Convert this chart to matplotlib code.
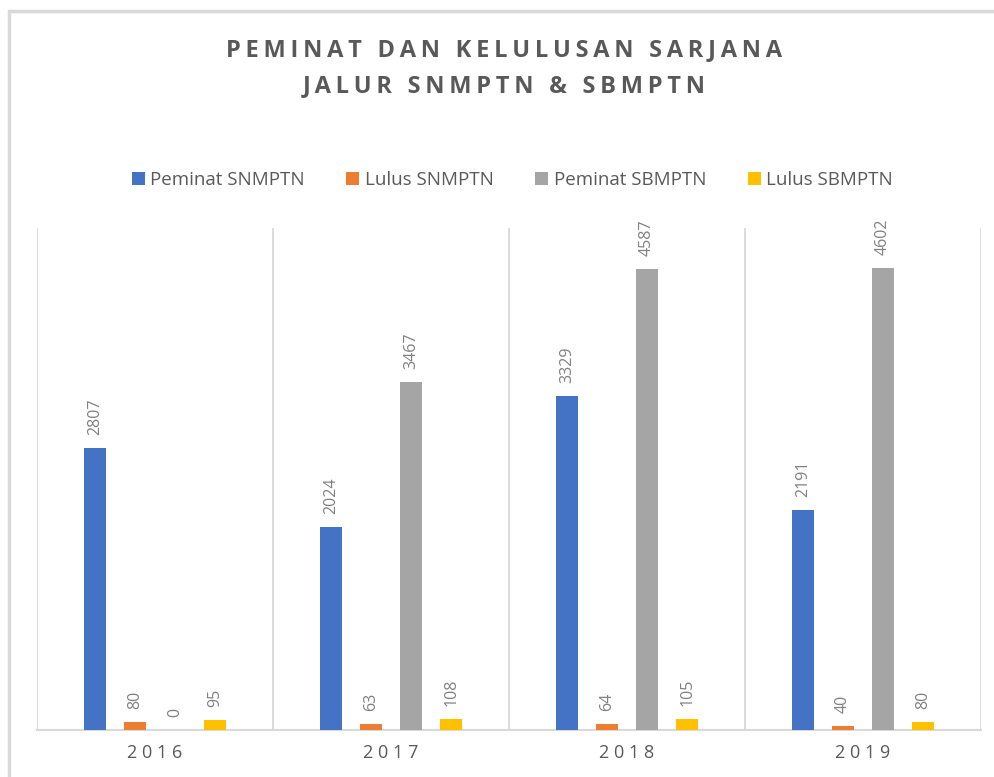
import numpy as np
import matplotlib.pyplot as plt
from matplotlib.patches import Rectangle

years = ['2016', '2017', '2018', '2019']
series = ['Peminat SNMPTN', 'Lulus SNMPTN', 'Peminat SBMPTN', 'Lulus SBMPTN']
peminat_snmptn = [2807, 2024, 3329, 2191]
lulus_snmptn = [80, 63, 64, 40]
peminat_sbmptn = [0, 3467, 4587, 4602]
lulus_sbmptn = [95, 108, 105, 80]
colors = ['#4472C4', '#ED7D31', '#A5A5A5', '#FFC000']

plt.rcParams['font.family'] = ['Open Sans', 'DejaVu Sans']


def spaced(s, gap='\u2009'):
    # fake letter spacing
    return (gap + ' ' + gap).join(gap.join(w) for w in s.split(' '))


fig = plt.figure(figsize=(9.95, 7.77), dpi=100)
ax = fig.add_axes([37/995, 1-730/777, 944/995, 502/777])

# outer chart border
fig.patches.append(Rectangle((9/995, -0.1), 1.2, 1.1 - 11/777, transform=fig.transFigure,
                             fill=False, edgecolor='#d9d9d9', linewidth=2.5, zorder=0))

x = np.arange(len(years))
width = 0.093
offsets = [-0.255, -0.085, 0.085, 0.255]
data = [peminat_snmptn, lulus_snmptn, peminat_sbmptn, lulus_sbmptn]

for vals, off, c, name in zip(data, offsets, colors, series):
    bars = ax.bar(x + off, vals, width, color=c, label=name, zorder=3)
    for b, v in zip(bars, vals):
        ax.text(b.get_x() + b.get_width()/2, v + 130, str(v), rotation=90,
                ha='center', va='bottom', fontsize=11.5, color='#808080')

ax.set_xlim(-0.5, 3.5)
ax.set_ylim(0, 5000)
ax.set_yticks([])
for sep in np.arange(-0.5, 4.0, 1.0):
    ax.axvline(sep, color='#d9d9d9', linewidth=1.3, zorder=1)
for s in ['top', 'left', 'right']:
    ax.spines[s].set_visible(False)
ax.spines['bottom'].set_color('#d9d9d9')
ax.spines['bottom'].set_linewidth(1.5)
ax.set_xticks(x)
ax.set_xticklabels([spaced(y, '\u2009\u200a') for y in years], fontsize=13, color='#595959')
ax.tick_params(axis='x', length=0, pad=10)

fig.text(0.507, 1-50/777, spaced('PEMINAT DAN KELULUSAN SARJANA'),
         ha='center', va='center', fontsize=17, fontweight='bold', color='#595959')
fig.text(0.507, 1-86/777, spaced('JALUR SNMPTN & SBMPTN'),
         ha='center', va='center', fontsize=17, fontweight='bold', color='#595959')

fig.legend(loc='center', bbox_to_anchor=(0.515, 1-180/777), ncol=4, frameon=False,
           fontsize=13.5, labelcolor='#595959', handlelength=0.7, handleheight=0.7,
           handletextpad=0.3, columnspacing=2.2)

fig.savefig('out.png', dpi=100)
